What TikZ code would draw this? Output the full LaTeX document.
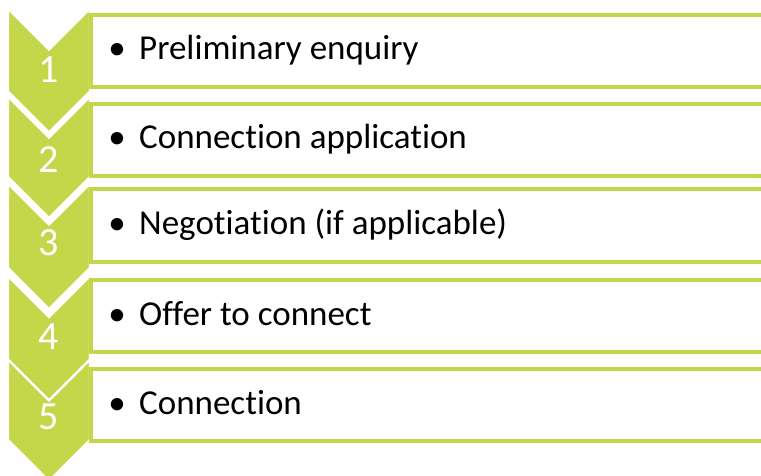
\documentclass[tikz,border=0pt]{standalone}
\usepackage{fontspec}
\setmainfont{Carlito}[Ligatures=NoCommon]
\definecolor{lime}{HTML}{C4D64A}
\begin{document}
\begin{tikzpicture}[x=1pt,y=-1pt,
  chev/.style={fill=lime,draw=white,line width=2.4pt,line join=miter},
  listbox/.style={draw=lime,fill=white,line width=4pt},
  num/.style={text=white,font=\fontsize{40}{40}\selectfont,anchor=base,inner sep=0pt},
  item/.style={text=black,font=\fontsize{35}{35}\selectfont,anchor=base west,inner sep=0pt},
  dot/.style={text=black,font=\fontsize{35}{35}\selectfont,anchor=base,inner sep=0pt}]
\useasboundingbox (0,0) rectangle (761,476);
\clip (0,0) rectangle (761,476);
% chevrons
\foreach \t/\b [count=\i] in {8.5/91.5, 96.5/177, 183.5/268, 276/359.5, 359.5/440}{
  \draw[chev] (8,\t) -- (49,\t+41) -- (90,\t) -- (90,\b) -- (49,\b+41) -- (8,\b) -- cycle;
}
% boxes
\draw[listbox] (91,15) rectangle (775,87);
\draw[listbox] (91,104) rectangle (775,176);
\draw[listbox] (91,189) rectangle (775,261.5);
\draw[listbox] (91,280) rectangle (775,352);
\draw[listbox] (91,369) rectangle (775,441);
% numbers
\node[num] (n1) at (49,82.6) {1};
\node[num] (n2) at (49,172.6) {2};
\node[num] (n3) at (49,255.6) {3};
\node[num] (n4) at (49,349.6) {4};
\node[num] (n5) at (49,429.6) {5};
% bullets and texts
\node[dot] (b1) at (117,60) {•};
\node[item] (t1) at (139,60) {Preliminary enquiry};
\node[dot] (b2) at (117,149) {•};
\node[item] (t2) at (139,149) {Connection application};
\node[dot] (b3) at (117,234) {•};
\node[item] (t3) at (139,234) {Negotiation (if applicable)};
\node[dot] (b4) at (117,325) {•};
\node[item] (t4) at (139,325) {Offer to connect};
\node[dot] (b5) at (117,414) {•};
\node[item] (t5) at (139,414) {Connection};
\end{tikzpicture}
\end{document}
